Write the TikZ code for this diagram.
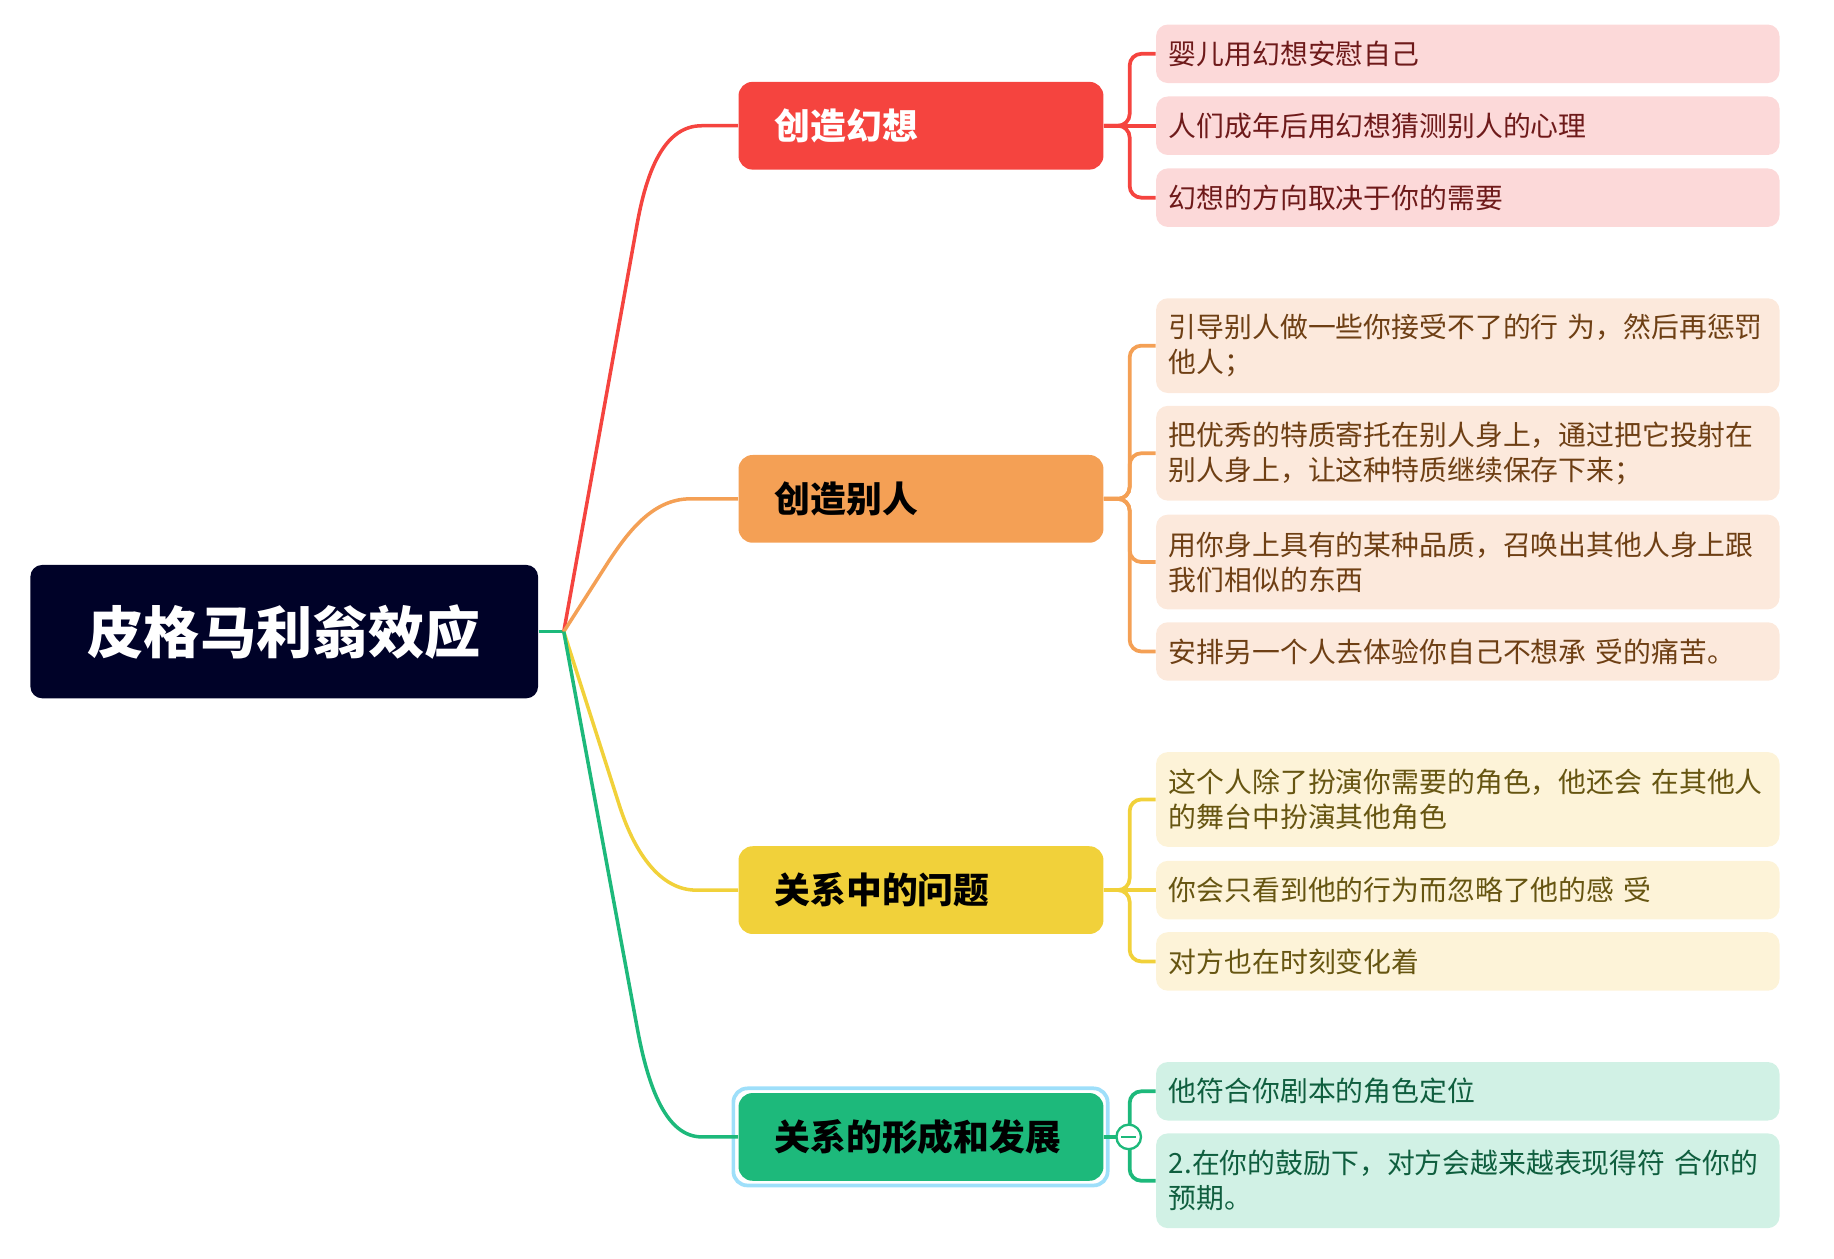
\documentclass[tikz,border=0pt]{standalone}
\usepackage{fontspec}
\newfontfamily\cjk{Noto Sans CJK SC}
\definecolor{rootc}{HTML}{000228}
\definecolor{redc}{HTML}{F5443F}
\definecolor{redl}{HTML}{FCD9D9}
\definecolor{redt}{HTML}{6E1A1A}
\definecolor{orac}{HTML}{F4A055}
\definecolor{oral}{HTML}{FCE9DC}
\definecolor{orat}{HTML}{6E3F14}
\definecolor{yelc}{HTML}{F1D13A}
\definecolor{yell}{HTML}{FDF3D8}
\definecolor{yelt}{HTML}{665511}
\definecolor{grec}{HTML}{1DB97B}
\definecolor{grel}{HTML}{D1F1E5}
\definecolor{gret}{HTML}{0F5E3E}
\definecolor{selc}{HTML}{9EDFFA}
\begin{document}
\begin{tikzpicture}[x=0.5pt,y=-0.5pt,
  conn/.style={line width=1.5pt},
  brk/.style={line width=1.6pt, rounded corners=5pt},
  leaf/.style={rounded corners=5pt, minimum width=266.5pt, text width=255.5pt, inner xsep=5.5pt, inner ysep=0pt, align=left, anchor=west, font=\cjk\fontsize{11.9}{15}\selectfont},
  mainbox/.style={rounded corners=6pt, minimum width=156pt, minimum height=37.5pt, text width=125pt, inner xsep=15.5pt, inner ysep=0pt, align=left, anchor=west, font=\cjk\bfseries\fontsize{15.3}{18}\selectfont}
]
\useasboundingbox (0,0) rectangle (1568,1076);
% root
\node[fill=rootc, rounded corners=5pt, minimum width=217pt, minimum height=57pt, inner sep=0pt, text=white, font=\cjk\bfseries\fontsize{24}{28}\selectfont] (root) at (243,540) {皮格马利翁效应};
\coordinate (J) at (482,540);
% main branches
\draw[selc, line width=1.6pt, rounded corners=6pt] (627,930.5) rectangle (947,1013.5);
\node[mainbox, fill=redc, text=white] (b1) at (631,107.5) {创造幻想};
\node[mainbox, fill=orac, text=black] (b2) at (631,426.5) {创造别人};
\node[mainbox, fill=yelc, text=black] (b3) at (631,761) {关系中的问题};
\node[mainbox, fill=grec, text=black] (b4) at (631,972) {关系的形成和发展};
% leaves red
\node[leaf, fill=redl, text=redt, minimum height=25pt] (l11) at (988,46) {婴儿用幻想安慰自己};
\node[leaf, fill=redl, text=redt, minimum height=25pt] (l12) at (988,107.5) {人们成年后用幻想猜测别人的心理};
\node[leaf, fill=redl, text=redt, minimum height=25pt] (l13) at (988,169) {幻想的方向取决于你的需要};
% leaves orange
\node[leaf, fill=oral, text=orat, minimum height=40.5pt] (l21) at (988,295.5) {\mbox{引导别人做一些你接受不了的行~为，然后再惩罚}\\他人；};
\node[leaf, fill=oral, text=orat, minimum height=40.5pt] (l22) at (988,387.5) {\mbox{把优秀的特质寄托在别人身上，通过把它投射在}\\\mbox{别人身上，让这种特质继续保存下来；}};
\node[leaf, fill=oral, text=orat, minimum height=40.5pt] (l23) at (988,480.5) {\mbox{用你身上具有的某种品质，召唤出其他人身上跟}\\我们相似的东西};
\node[leaf, fill=oral, text=orat, minimum height=25pt] (l24) at (988,557) {\mbox{安排另一个人去体验你自己不想承~受的痛苦。}};
% leaves yellow
\node[leaf, fill=yell, text=yelt, minimum height=40.5pt] (l31) at (988,683.5) {\mbox{这个人除了扮演你需要的角色，他还会~在其他人}\\的舞台中扮演其他角色};
\node[leaf, fill=yell, text=yelt, minimum height=25pt] (l32) at (988,761) {\mbox{你会只看到他的行为而忽略了他的感~受}};
\node[leaf, fill=yell, text=yelt, minimum height=25pt] (l33) at (988,822) {对方也在时刻变化着};
% leaves green
\node[leaf, fill=grel, text=gret, minimum height=25pt] (l41) at (988,933) {他符合你剧本的角色定位};
\node[leaf, fill=grel, text=gret, minimum height=40.5pt] (l42) at (988,1009.5) {\mbox{2.在你的鼓励下，对方会越来越表现得符~合你的}\\预期。};
% root connector
\draw[grec, line width=1.6pt] (root.east) -- (J);
% main connectors
\draw[conn, redc] (J) -- (545,190) .. controls (554,141) and (570,107.5) .. (600,107.5) -- (b1.west);
\draw[conn, orac] (J) -- (521,479) .. controls (537,455) and (558,426.5) .. (590,426.5) -- (b2.west);
\draw[conn, yelc] (J) -- (530,690) .. controls (543,730) and (565,761) .. (595,761) -- (b3.west);
\draw[conn, grec] (J) -- (545,880) .. controls (554.5,931) and (570,972) .. (600,972) -- (b4.west);
% brackets
\draw[brk, redc] (b1.east) -- ++(22,0) |- (l11.west);
\draw[brk, redc] (b1.east) -- (l12.west);
\draw[brk, redc] (b1.east) -- ++(22,0) |- (l13.west);
\draw[brk, orac] (b2.east) -- ++(22,0) |- (l21.west);
\draw[brk, orac] (b2.east) -- ++(22,0) |- (l22.west);
\draw[brk, orac] (b2.east) -- ++(22,0) |- (l23.west);
\draw[brk, orac] (b2.east) -- ++(22,0) |- (l24.west);
\draw[brk, yelc] (b3.east) -- ++(22,0) |- (l31.west);
\draw[brk, yelc] (b3.east) -- (l32.west);
\draw[brk, yelc] (b3.east) -- ++(22,0) |- (l33.west);
\draw[brk, grec] (b4.east) -- ++(22,0) |- (l41.west);
\draw[brk, grec] (b4.east) -- ++(22,0) |- (l42.west);
% collapse marker
\node[circle, draw=grec, fill=white, line width=1pt, minimum size=10.5pt, inner sep=0pt] (col) at (965,972) {};
\draw[grec, line width=1pt] ([xshift=-3.2pt]col.center) -- ([xshift=3.2pt]col.center);
\end{tikzpicture}
\end{document}
